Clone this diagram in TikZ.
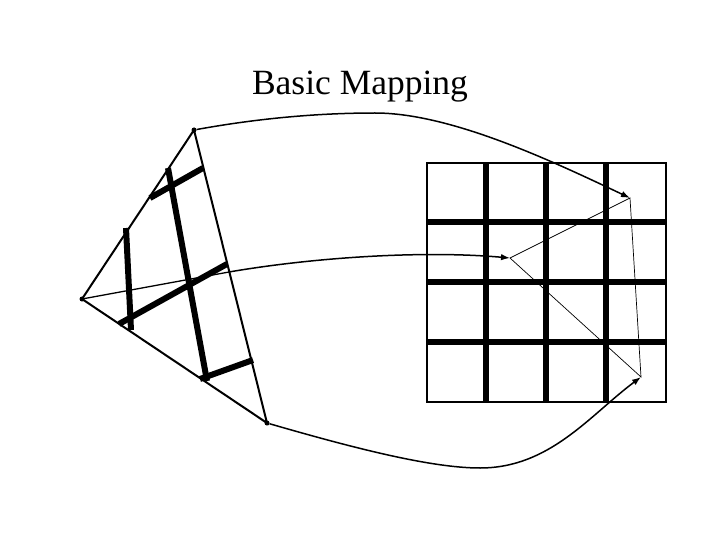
\documentclass[tikz,border=0pt]{standalone}
\usepackage{fontspec}
\setmainfont{Liberation Serif}
\usetikzlibrary{arrows.meta}

\begin{document}
\begin{tikzpicture}[
  x=1pt,
  y=-1pt,
  edgeline/.style={
    draw=black,
    line width=2pt},
  thickline/.style={
    draw=black,
    line width=6pt},
  gridline/.style={
    draw=black,
    line width=6.5pt},
  frameline/.style={
    draw=black,
    line width=2.5pt},
  thinline/.style={
    draw=black,
    line width=0.7pt},
  curveline/.style={
    draw=black,
    -{Latex[length=9pt,width=6.5pt]},
    line width=1.5pt},
  corner/.style={
    circle,
    fill=black,
    inner sep=0pt,
    minimum size=5pt},
]

\useasboundingbox (0,0) rectangle (720,540);

\node[font=\fontsize{35.5}{40}\selectfont, anchor=base] (title) at (360,95) {Basic Mapping};

% source quad
\node[corner] (top) at (194,130) {};
\node[corner] (left) at (82,299) {};
\node[corner] (bottom) at (267,423) {};
\coordinate (mid) at (229,272);

% target points
\coordinate (tgta) at (630,198);
\coordinate (tgtb) at (510,258);
\coordinate (tgtc) at (641,377);

% thick cross lines
\coordinate (crossa) at (168,168);
\coordinate (crossb) at (207,381);
\coordinate (crossc) at (126,228);
\coordinate (crossd) at (131,330);
\coordinate (crosse) at (203,168);
\coordinate (crossf) at (150,198);
\coordinate (crossg) at (227,264);
\coordinate (crossh) at (119,324);
\coordinate (crossi) at (253,360);
\coordinate (crossj) at (200,379);

\draw[thickline] (crossa) -- (crossb);
\draw[thickline] (crossc) -- (crossd);
\draw[thickline] (crosse) -- (crossf);
\draw[thickline] (crossg) -- (crossh);
\draw[thickline] (crossi) -- (crossj);

\draw[edgeline] (top.center) -- (left.center) -- (bottom.center) -- cycle;
\draw[edgeline, line width=1.3pt] (left.center) -- (mid);

% target grid
\foreach \gx in {486,546,606} {
  \draw[gridline] (\gx,163) -- (\gx,402);
}
\foreach \gy in {222,282,342} {
  \draw[gridline] (427,\gy) -- (666,\gy);
}
\draw[frameline] (427,163) rectangle (666,402);

\draw[thinline] (tgtb) -- (tgta) -- (tgtc) -- cycle;

\draw[curveline] (top)
  .. controls (260,118) and (320,113) .. (375,113)
  .. controls (450,113) and (550,160) .. (tgta);
\draw[curveline] (mid)
  .. controls (310,258) and (420,250) .. (tgtb);
\draw[curveline] (bottom)
  .. controls (350,447) and (430,468) .. (480,468)
  .. controls (550,468) and (590,415) .. (tgtc);

\end{tikzpicture}
\end{document}
